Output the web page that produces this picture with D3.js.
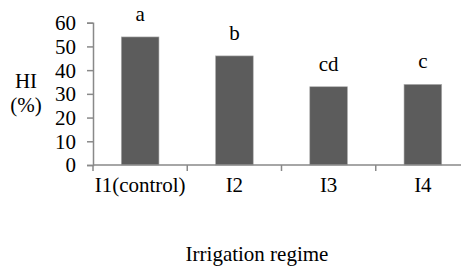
<!DOCTYPE html>
<html>
<head>
<meta charset="utf-8">
<script src="https://cdn.jsdelivr.net/npm/d3@7"></script>
<style>
  body { margin: 0; background: #fff; }
  svg text { font-family: 'Liberation Serif', 'Times New Roman', Times, serif !important; fill: #000; }
</style>
</head>
<body>
<script>
// chart data
var regimes = ["I1(control)", "I2", "I3", "I4"];
var hiValues = [54, 46, 33, 34];
var letters = ["a", "b", "cd", "c"];
var yTicks = [0, 10, 20, 30, 40, 50, 60];

// sizes
var svgWidth = 461, svgHeight = 268;
var margin = { top: 22.7, left: 93, bottom: 165 };
var plotRight = 470;
var fontSize = "21px";

var svg = d3.select("body")
            .append("svg")
            .attr("width", svgWidth)
            .attr("height", svgHeight)
            .attr("font-family", "'Liberation Serif', 'Times New Roman', serif");

// scales
var xScale = d3.scaleBand()
      .domain(regimes)
      .range([margin.left, plotRight])
      .paddingInner(0.6)
      .paddingOuter(0.3);

var yScale = d3.scaleLinear()
      .domain([0, 60])
      .range([margin.bottom, margin.top]);

var axisColor = "#898989";

// bars
svg.selectAll("rect.bar")
   .data(hiValues)
   .enter()
   .append("rect")
   .attr("class", "bar")
   .attr("x", function(d, i) { return xScale(regimes[i]); })
   .attr("y", function(d) { return yScale(d); })
   .attr("width", xScale.bandwidth())
   .attr("height", function(d) { return yScale(0) - yScale(d); })
   .style("fill", "#5c5c5c")
   .style("stroke", "#b0b0b0")
   .style("stroke-width", 0.6);

// y axis
var yAxis = svg.append("g")
   .attr("transform", "translate(" + margin.left + ",0)")
   .call(d3.axisLeft(yScale).tickValues(yTicks).tickSize(6).tickPadding(11));
yAxis.attr("font-family", null).attr("font-size", null);
yAxis.select(".domain").attr("stroke", axisColor).attr("stroke-width", 1.5);
yAxis.selectAll(".tick line").attr("stroke", axisColor).attr("stroke-width", 1.5);
yAxis.selectAll(".tick text")
   .style("font-size", fontSize)
   .attr("dy", "0.33em");

// x axis: line with ticks between categories
var step = xScale.step();
var boundaries = d3.range(regimes.length + 1).map(function(i) { return margin.left + i * step; });

svg.append("line")
   .attr("x1", margin.left)
   .attr("x2", plotRight)
   .attr("y1", yScale(0))
   .attr("y2", yScale(0))
   .attr("stroke", axisColor)
   .attr("stroke-width", 1.5);

svg.selectAll("line.xtick")
   .data(boundaries)
   .enter()
   .append("line")
   .attr("class", "xtick")
   .attr("x1", function(d) { return d; })
   .attr("x2", function(d) { return d; })
   .attr("y1", yScale(0))
   .attr("y2", yScale(0) + 6)
   .attr("stroke", axisColor)
   .attr("stroke-width", 1.5);

// category labels
svg.selectAll("text.xlab")
   .data(regimes)
   .enter()
   .append("text")
   .attr("class", "xlab")
   .attr("x", function(d) { return xScale(d) + xScale.bandwidth() / 2; })
   .attr("y", 192)
   .style("text-anchor", "middle")
   .style("font-size", fontSize)
   .text(function(d) { return d; });

// significance letters
svg.selectAll("text.letter")
   .data(hiValues)
   .enter()
   .append("text")
   .attr("class", "letter")
   .attr("x", function(d, i) { return xScale(regimes[i]) + xScale.bandwidth() / 2; })
   .attr("y", function(d) { return yScale(d) - 16; })
   .style("text-anchor", "middle")
   .style("font-size", fontSize)
   .text(function(d, i) { return letters[i]; });

// y axis title
svg.append("text")
   .attr("x", 26)
   .attr("y", 88)
   .style("text-anchor", "middle")
   .style("font-size", fontSize)
   .text("HI");

svg.append("text")
   .attr("x", 26)
   .attr("y", 112)
   .style("text-anchor", "middle")
   .style("font-size", fontSize)
   .text("(%)");

// x axis title
svg.append("text")
   .attr("x", 257)
   .attr("y", 261)
   .style("text-anchor", "middle")
   .style("font-size", fontSize)
   .text("Irrigation regime");
</script>
</body>
</html>
